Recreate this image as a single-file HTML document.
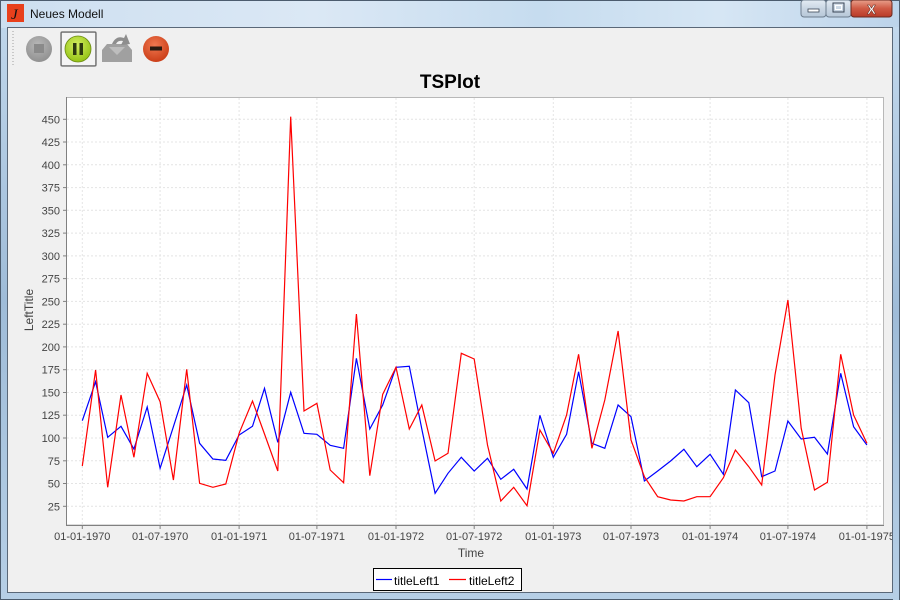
<!DOCTYPE html>
<html><head><meta charset="utf-8">
<style>
html,body{margin:0;padding:0;width:900px;height:600px;overflow:hidden;background:#f0f0f0;}
svg{display:block;font-family:"Liberation Sans",Arial,sans-serif;}
</style></head>
<body>
<svg width="900" height="600" viewBox="0 0 900 600" xmlns="http://www.w3.org/2000/svg">
<defs>
<linearGradient id="tb" x1="0" y1="0" x2="1" y2="0">
<stop offset="0" stop-color="#cddff0"/><stop offset="0.35" stop-color="#dbe8f5"/><stop offset="0.6" stop-color="#c6dcef"/><stop offset="0.8" stop-color="#d6e6f4"/><stop offset="1" stop-color="#bcd3ea"/>
</linearGradient>
<linearGradient id="side" x1="0" y1="0" x2="0" y2="1">
<stop offset="0" stop-color="#c2d8ec"/><stop offset="0.5" stop-color="#9fbcd8"/><stop offset="1" stop-color="#b6cfe6"/>
</linearGradient>
<linearGradient id="btn" x1="0" y1="0" x2="0" y2="1">
<stop offset="0" stop-color="#e4ecf4"/><stop offset="0.5" stop-color="#c9d6e3"/><stop offset="1" stop-color="#b7c7d8"/>
</linearGradient>
<linearGradient id="cls" x1="0" y1="0" x2="0" y2="1">
<stop offset="0" stop-color="#e8a08c"/><stop offset="0.5" stop-color="#cf5a44"/><stop offset="1" stop-color="#b83a28"/>
</linearGradient>
<radialGradient id="gry" cx="0.45" cy="0.35" r="0.7">
<stop offset="0" stop-color="#b8b8b8"/><stop offset="1" stop-color="#8e8e8e"/>
</radialGradient>
<radialGradient id="grn" cx="0.45" cy="0.35" r="0.7">
<stop offset="0" stop-color="#d4ef60"/><stop offset="1" stop-color="#8fbf10"/>
</radialGradient>
<radialGradient id="red" cx="0.45" cy="0.35" r="0.7">
<stop offset="0" stop-color="#f07850"/><stop offset="1" stop-color="#c83a14"/>
</radialGradient>
</defs>

<!-- window frame -->
<rect x="0" y="0" width="900" height="600" fill="url(#side)"/>
<rect x="0" y="0" width="900" height="28" fill="url(#tb)"/>
<rect x="0.5" y="0.5" width="899" height="599" fill="none" stroke="#4c5c6e" stroke-width="1"/>
<!-- client area -->
<rect x="7" y="27" width="886" height="566" fill="#f0f0f0"/>
<rect x="7.5" y="27.5" width="885" height="565" fill="none" stroke="#5a6878" stroke-width="1"/>

<!-- title icon -->
<rect x="7" y="4" width="17" height="18" fill="#e8401c"/>
<text x="11" y="19" font-size="15" font-family="Liberation Serif,serif" font-style="italic" fill="#111">J</text>
<text x="30" y="18" font-size="12" fill="#111">Neues Modell</text>

<!-- window buttons -->
<rect x="801" y="0" width="25" height="17" rx="3" fill="url(#btn)" stroke="#6d7d8e"/>
<rect x="808" y="9" width="11" height="3" fill="#fff" stroke="#3a4656" stroke-width="0.8"/>
<rect x="826" y="0" width="25" height="17" rx="3" fill="url(#btn)" stroke="#6d7d8e"/>
<rect x="833" y="3" width="11" height="9" fill="none" stroke="#3a4656" stroke-width="1"/>
<rect x="835.5" y="5.5" width="6" height="4" fill="none" stroke="#fff" stroke-width="1"/>
<rect x="851" y="0" width="41" height="17" rx="3" fill="url(#cls)" stroke="#6b2a20"/>
<text x="871.5" y="14" font-size="13" font-weight="bold" text-anchor="middle" fill="#fff" stroke="#5a2a20" stroke-width="0.5">X</text>

<!-- toolbar -->
<line x1="13" y1="31" x2="13" y2="67" stroke="#a0a0a0" stroke-dasharray="1,2"/>
<circle cx="39" cy="49" r="13" fill="url(#gry)"/>
<rect x="34" y="44" width="10" height="9" fill="#8a8a8a"/>
<rect x="60.5" y="31.5" width="36" height="35" rx="2" fill="#f4f4f4" stroke="#9a9a9a"/>
<rect x="61.5" y="32.5" width="34" height="33" fill="none" stroke="#222" stroke-dasharray="1,1"/>
<circle cx="78" cy="49" r="13" fill="url(#grn)" stroke="#6a8a10" stroke-width="0.8"/>
<rect x="73" y="43" width="3.5" height="12" fill="#2e3a10"/>
<rect x="79.5" y="43" width="3.5" height="12" fill="#2e3a10"/>
<path d="M102 50 L107 44 L127 44 L132 50 L132 62 L102 62 Z" fill="#a0a0a0"/>
<path d="M109 47 L125 47 L117 55 Z" fill="#bdbdbd"/>
<path d="M112 44 Q116 35 124 38 L126 34 L130 44 L121 45 L123 41 Q118 40 116 44 Z" fill="#8e8e8e"/>
<circle cx="156" cy="49" r="13" fill="url(#red)"/>
<rect x="150" y="46.5" width="12" height="4" fill="#2a1a10"/>

<!-- chart title -->
<text x="450" y="88" font-size="19" font-weight="bold" text-anchor="middle" fill="#000">TSPlot</text>

<!-- plot area -->
<rect x="66.5" y="97.5" width="817" height="427.5" fill="#ffffff" stroke="#b8b8b8" stroke-width="1"/>
<g stroke="#e4e4e4" stroke-width="1" stroke-dasharray="2,2">
<line x1="67" y1="506.3" x2="883" y2="506.3"/>
<line x1="67" y1="483.5" x2="883" y2="483.5"/>
<line x1="67" y1="460.8" x2="883" y2="460.8"/>
<line x1="67" y1="438.0" x2="883" y2="438.0"/>
<line x1="67" y1="415.2" x2="883" y2="415.2"/>
<line x1="67" y1="392.5" x2="883" y2="392.5"/>
<line x1="67" y1="369.7" x2="883" y2="369.7"/>
<line x1="67" y1="346.9" x2="883" y2="346.9"/>
<line x1="67" y1="324.2" x2="883" y2="324.2"/>
<line x1="67" y1="301.4" x2="883" y2="301.4"/>
<line x1="67" y1="278.6" x2="883" y2="278.6"/>
<line x1="67" y1="255.9" x2="883" y2="255.9"/>
<line x1="67" y1="233.1" x2="883" y2="233.1"/>
<line x1="67" y1="210.3" x2="883" y2="210.3"/>
<line x1="67" y1="187.6" x2="883" y2="187.6"/>
<line x1="67" y1="164.8" x2="883" y2="164.8"/>
<line x1="67" y1="142.0" x2="883" y2="142.0"/>
<line x1="67" y1="119.3" x2="883" y2="119.3"/>
<line x1="82.3" y1="98" x2="82.3" y2="525"/>
<line x1="160.1" y1="98" x2="160.1" y2="525"/>
<line x1="239.1" y1="98" x2="239.1" y2="525"/>
<line x1="316.9" y1="98" x2="316.9" y2="525"/>
<line x1="396.0" y1="98" x2="396.0" y2="525"/>
<line x1="474.2" y1="98" x2="474.2" y2="525"/>
<line x1="553.3" y1="98" x2="553.3" y2="525"/>
<line x1="631.0" y1="98" x2="631.0" y2="525"/>
<line x1="710.1" y1="98" x2="710.1" y2="525"/>
<line x1="787.9" y1="98" x2="787.9" y2="525"/>
<line x1="866.9" y1="98" x2="866.9" y2="525"/>
</g>
<!-- axes -->
<line x1="66.5" y1="97" x2="66.5" y2="525.5" stroke="#808080"/>
<line x1="66" y1="525.5" x2="884" y2="525.5" stroke="#808080"/>
<g stroke="#808080">
<line x1="63" y1="506.3" x2="66" y2="506.3"/><line x1="63" y1="483.5" x2="66" y2="483.5"/>
<line x1="63" y1="460.8" x2="66" y2="460.8"/><line x1="63" y1="438.0" x2="66" y2="438.0"/>
<line x1="63" y1="415.2" x2="66" y2="415.2"/><line x1="63" y1="392.5" x2="66" y2="392.5"/>
<line x1="63" y1="369.7" x2="66" y2="369.7"/><line x1="63" y1="346.9" x2="66" y2="346.9"/>
<line x1="63" y1="324.2" x2="66" y2="324.2"/><line x1="63" y1="301.4" x2="66" y2="301.4"/>
<line x1="63" y1="278.6" x2="66" y2="278.6"/><line x1="63" y1="255.9" x2="66" y2="255.9"/>
<line x1="63" y1="233.1" x2="66" y2="233.1"/><line x1="63" y1="210.3" x2="66" y2="210.3"/>
<line x1="63" y1="187.6" x2="66" y2="187.6"/><line x1="63" y1="164.8" x2="66" y2="164.8"/>
<line x1="63" y1="142.0" x2="66" y2="142.0"/><line x1="63" y1="119.3" x2="66" y2="119.3"/>
<line x1="82.3" y1="526" x2="82.3" y2="529"/><line x1="160.1" y1="526" x2="160.1" y2="529"/>
<line x1="239.1" y1="526" x2="239.1" y2="529"/><line x1="316.9" y1="526" x2="316.9" y2="529"/>
<line x1="396.0" y1="526" x2="396.0" y2="529"/><line x1="474.2" y1="526" x2="474.2" y2="529"/>
<line x1="553.3" y1="526" x2="553.3" y2="529"/><line x1="631.0" y1="526" x2="631.0" y2="529"/>
<line x1="710.1" y1="526" x2="710.1" y2="529"/><line x1="787.9" y1="526" x2="787.9" y2="529"/>
<line x1="866.9" y1="526" x2="866.9" y2="529"/>
</g>

<!-- y labels -->
<g font-size="11" fill="#444" text-anchor="end">
<text x="60" y="510.3">25</text><text x="60" y="487.5">50</text><text x="60" y="464.8">75</text>
<text x="60" y="442.0">100</text><text x="60" y="419.2">125</text><text x="60" y="396.5">150</text>
<text x="60" y="373.7">175</text><text x="60" y="350.9">200</text><text x="60" y="328.2">225</text>
<text x="60" y="305.4">250</text><text x="60" y="282.6">275</text><text x="60" y="259.9">300</text>
<text x="60" y="237.1">325</text><text x="60" y="214.3">350</text><text x="60" y="191.6">375</text>
<text x="60" y="168.8">400</text><text x="60" y="146.0">425</text><text x="60" y="123.3">450</text>
</g>
<!-- x labels -->
<g font-size="11" fill="#444" text-anchor="middle">
<text x="82.3" y="540">01-01-1970</text><text x="160.1" y="540">01-07-1970</text>
<text x="239.1" y="540">01-01-1971</text><text x="316.9" y="540">01-07-1971</text>
<text x="396.0" y="540">01-01-1972</text><text x="474.2" y="540">01-07-1972</text>
<text x="553.3" y="540">01-01-1973</text><text x="631.0" y="540">01-07-1973</text>
<text x="710.1" y="540">01-01-1974</text><text x="787.9" y="540">01-07-1974</text>
<text x="866.9" y="540">01-01-1975</text>
</g>
<text x="471" y="557" font-size="12" fill="#444" text-anchor="middle">Time</text>
<text transform="translate(33,310) rotate(-90)" font-size="12" fill="#444" text-anchor="middle">LeftTitle</text>

<!-- series -->
<polyline fill="none" stroke="#0000ff" stroke-width="1.2" stroke-linejoin="miter" points="82.3,420.7 95.6,381.7 107.7,437.3 121.0,426.3 133.9,449 147.2,407 160.1,468.3 173.4,426.7 186.7,385 199.6,443.3 212.9,459 225.8,460.3 239.1,435 252.5,426.3 264.5,388.3 277.8,442.3 290.7,392.3 304.0,433.3 316.9,434.3 330.2,445.3 343.6,448.3 356.4,358.3 369.8,429 382.7,405 396.0,367.3 409.3,366.3 421.8,429 435.1,493.3 448.0,473.3 461.3,457.3 474.2,471 487.5,458.3 500.8,479.3 513.7,469.3 527.0,489 539.9,415.3 553.3,457.3 566.6,434.3 578.6,371.7 591.9,443.3 604.8,448.3 618.1,405 631.0,416.7 644.4,481 657.7,471 670.6,461 683.9,449.3 696.8,466.7 710.1,454.3 723.4,474.3 735.4,390 748.8,402.7 761.7,476.7 775.0,471 787.9,421 801.2,439 814.5,437.3 827.4,454 840.7,373.3 853.6,426.7 866.9,445"/>
<polyline fill="none" stroke="#ff0000" stroke-width="1.2" stroke-linejoin="miter" points="82.3,466 95.6,370 107.7,487.3 121.0,395 133.9,457.3 147.2,373.3 160.1,401.7 173.4,480 186.7,369.3 199.6,483.3 212.9,487.3 225.8,484 239.1,433.3 252.5,401 264.5,434 277.8,471 290.7,116.7 304.0,411 316.9,403.3 330.2,470 343.6,482.7 356.4,314 369.8,475.7 382.7,394.3 396.0,367.3 409.3,429 421.8,405 435.1,461 448.0,453.3 461.3,353.3 474.2,359 487.5,445 500.8,501 513.7,487.3 527.0,505.7 539.9,430 553.3,453.3 566.6,415 578.6,354.3 591.9,448.3 604.8,400 618.1,331 631.0,440 644.4,476.7 657.7,496.7 670.6,500 683.9,501 696.8,496.7 710.1,496.7 723.4,477.7 735.4,450 748.8,466.7 761.7,485 775.0,375 787.9,300 801.2,428.3 814.5,490 827.4,482.3 840.7,354.3 853.6,415 866.9,443.3"/>

<!-- legend -->
<rect x="373.5" y="568.5" width="148" height="22" fill="#ffffff" stroke="#000" stroke-width="1"/>
<line x1="376" y1="579.5" x2="392" y2="579.5" stroke="#0000ff" stroke-width="1.2"/>
<text x="394" y="585" font-size="12" fill="#000">titleLeft1</text>
<line x1="449" y1="579.5" x2="466" y2="579.5" stroke="#ff0000" stroke-width="1.2"/>
<text x="469" y="585" font-size="12" fill="#000">titleLeft2</text>

<!-- right frame overlay (clips last label) -->
<rect x="893" y="27" width="7" height="573" fill="url(#side)"/>
<line x1="892.5" y1="27" x2="892.5" y2="593" stroke="#5a6878"/>
<line x1="899.5" y1="0" x2="899.5" y2="600" stroke="#4c5c6e"/>
</svg>
</body></html>
